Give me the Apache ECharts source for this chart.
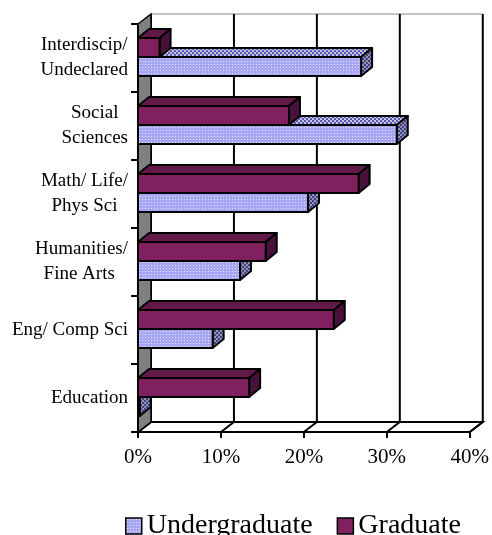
<!DOCTYPE html>
<html>
<head>
<meta charset="utf-8">
<script src="https://cdn.jsdelivr.net/npm/echarts@6/dist/echarts.min.js"></script>
<style>
html,body{margin:0;padding:0;background:#fff;}
#chart{width:492px;height:535px;}
</style>
</head>
<body>
<div id="chart"></div>
<script>
var categories = ['Education', 'Eng/ Comp Sci', 'Humanities/\nFine Arts ', 'Math/ Life/\nPhys Sci', 'Social\nSciences', 'Interdiscip/\nUndeclared'];
var undergraduate = [0.2, 9.0, 12.3, 20.5, 31.2, 26.9];
var graduate = [13.4, 23.6, 15.4, 26.6, 18.2, 2.6];
var xTicks = [0, 10, 20, 30, 40];
var seriesNames = ['Undergraduate', 'Graduate'];

var FONT = 'Liberation Serif, Times New Roman, serif';
var DX = 13, DY = -10;      // wall depth
var BDX = 11, BDY = -9;     // bar depth

function makePattern(w, h, draw) {
  var c = document.createElement('canvas');
  c.width = w; c.height = h;
  var ctx = c.getContext('2d');
  draw(ctx);
  return { image: c, repeat: 'repeat' };
}
function checker(a, b, s) {
  return makePattern(2 * s, 2 * s, function (ctx) {
    ctx.fillStyle = a; ctx.fillRect(0, 0, 2 * s, 2 * s);
    ctx.fillStyle = b; ctx.fillRect(0, 0, s, s); ctx.fillRect(s, s, s, s);
  });
}
var ugFront = makePattern(3, 3, function (ctx) {
  ctx.fillStyle = '#A6A6F2'; ctx.fillRect(0, 0, 3, 3);
  ctx.fillStyle = '#E6E6FF'; ctx.fillRect(1, 1, 1, 1);
});
var ugTop = checker('#C4C4D4', '#5858BC', 2);
var ugSide = checker('#9494B0', '#404088', 2);

var styles = {
  Undergraduate: { front: ugFront, top: ugTop, side: ugSide },
  Graduate: { front: '#80205F', top: '#621848', side: '#48103A' }
};

function barRender(name, isUpper) {
  return function (params, api) {
    var cat = api.value(0);
    var val = api.value(1);
    var p0 = api.coord([0, cat]);
    var p1 = api.coord([val, cat]);
    var cy = p0[1];
    var x0 = p0[0], x1 = p1[0];
    var yTop = isUpper ? cy - 20 : cy - 1;
    var yBot = isUpper ? cy - 1 : cy + 18;
    var st = styles[name];
    var line = { stroke: '#000', lineWidth: 2, lineJoin: 'round' };
    return {
      type: 'group',
      children: [
        { type: 'polygon', shape: { points: [[x0, yTop], [x1, yTop], [x1 + BDX, yTop + BDY], [x0 + BDX, yTop + BDY]] },
          style: Object.assign({ fill: st.top }, line) },
        { type: 'polygon', shape: { points: [[x1, yTop], [x1 + BDX, yTop + BDY], [x1 + BDX, yBot + BDY], [x1, yBot]] },
          style: Object.assign({ fill: st.side }, line) },
        { type: 'rect', shape: { x: x0, y: yTop, width: Math.max(x1 - x0, 0), height: yBot - yTop },
          style: Object.assign({ fill: st.front }, line) }
      ]
    };
  };
}

function wallRender(params, api) {
  var n = categories.length;
  var band = api.size([0, 1])[1];
  var bottom = api.coord([0, 0])[1] + band / 2;
  var top = api.coord([0, n - 1])[1] - band / 2;
  var xL = api.coord([xTicks[0], 0])[0];
  var xR = api.coord([xTicks[xTicks.length - 1], 0])[0];
  var children = [];
  children.push({ type: 'rect', shape: { x: xL + DX, y: top + DY, width: xR - xL, height: bottom - top },
    style: { fill: '#fff', stroke: '#888', lineWidth: 1 } });
  children.push({ type: 'polygon', shape: { points: [[xL, bottom], [xR, bottom], [xR + DX, bottom + DY], [xL + DX, bottom + DY]] },
    style: { fill: '#fff', stroke: '#000', lineWidth: 2 } });
  xTicks.forEach(function (t) {
    var x = api.coord([t, 0])[0];
    children.push({ type: 'line', shape: { x1: x + DX, y1: top + DY, x2: x + DX, y2: bottom + DY },
      style: { stroke: '#000', lineWidth: 2 } });
    children.push({ type: 'line', shape: { x1: x, y1: bottom, x2: x + DX, y2: bottom + DY },
      style: { stroke: '#000', lineWidth: 2 } });
  });
  children.push({ type: 'polygon', shape: { points: [[xL, top], [xL, bottom], [xL + DX, bottom + DY], [xL + DX, top + DY]] },
    style: { fill: '#808080', stroke: '#000', lineWidth: 1.5 } });
  return { type: 'group', children: children };
}

var chart = echarts.init(document.getElementById('chart'), null, { renderer: 'canvas' });
chart.setOption({
  animation: false,
  backgroundColor: '#fff',
  grid: { left: 138, right: 22, top: 24, bottom: 103, containLabel: false },
  xAxis: {
    type: 'value', min: 0, max: 40, interval: 10, z: 10,
    axisLine: { show: true, lineStyle: { color: '#000', width: 2 } },
    axisTick: { show: true, length: 6, lineStyle: { color: '#000', width: 2 } },
    splitLine: { show: false },
    axisLabel: { formatter: '{value}%', color: '#000', fontSize: 21, fontFamily: FONT, margin: 15 }
  },
  yAxis: {
    type: 'category', data: categories, z: 10,
    axisLine: { show: true, lineStyle: { color: '#000', width: 2 } },
    axisTick: { show: true, length: 7, lineStyle: { color: '#000', width: 2 } },
    axisLabel: {
      color: '#000', fontSize: 19, fontFamily: FONT, margin: 10, lineHeight: 25,
      formatter: function (v) { return v.split('\n').map(function (l) { return '{c|' + l + '}'; }).join('\n'); },
      rich: { c: { align: 'center', fontSize: 19, lineHeight: 25, fontFamily: FONT, color: '#000' } }
    }
  },
  legend: {
    left: 125, top: 512, padding: 0, itemWidth: 16, itemHeight: 16, itemGap: 24,
    selectedMode: false,
    textStyle: { fontSize: 28, fontFamily: FONT, color: '#000' },
    data: [
      { name: seriesNames[0], icon: 'rect', itemStyle: { color: ugFront, borderColor: '#000', borderWidth: 1.5 } },
      { name: seriesNames[1], icon: 'rect', itemStyle: { color: '#80205F', borderColor: '#000', borderWidth: 1.5 } }
    ]
  },
  series: [
    { type: 'custom', name: 'walls', z: 1, silent: true, renderItem: wallRender, data: [[0, 0]], encode: { x: 1, y: 0 } },
    { type: 'custom', name: seriesNames[0], z: 2, renderItem: barRender(seriesNames[0], false),
      itemStyle: { color: '#A6A6F2' },
      data: undergraduate.map(function (v, i) { return [i, v]; }), encode: { x: 1, y: 0 } },
    { type: 'custom', name: seriesNames[1], z: 3, renderItem: barRender(seriesNames[1], true),
      itemStyle: { color: '#80205F' },
      data: graduate.map(function (v, i) { return [i, v]; }), encode: { x: 1, y: 0 } }
  ]
});
</script>
</body>
</html>
